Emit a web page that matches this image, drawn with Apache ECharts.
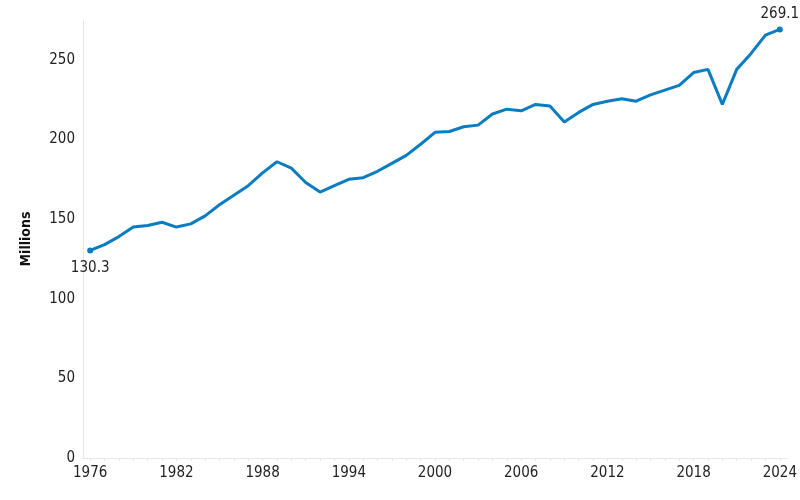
<!DOCTYPE html>
<html><head><meta charset="utf-8">
<script src="https://cdn.jsdelivr.net/npm/echarts@6/dist/echarts.min.js"></script>
<style>html,body{margin:0;background:#fff}#main{width:800px;height:500px}</style>
</head><body><div id="main"></div>
<script>
var years = [];
for (var y = 1976; y <= 2024; y++) years.push(String(y));
var values = [130.3, 134, 139, 145, 146, 148, 145, 147, 152, 159, 165, 171, 179, 186, 182, 173, 167, 171, 175, 176,
    180, 185, 190, 197, 204.5, 205, 208, 209, 216, 219, 218, 222, 221, 211, 217, 222, 224, 225.5, 224, 228,
    231, 234, 242, 244, 222, 244, 254, 265.5, 269.1];
var shownYears = ['1976', '1982', '1988', '1994', '2000', '2006', '2012', '2018', '2024'];
var font = '"Liberation Sans Narrow", "DejaVu Sans Condensed", sans-serif';

var myChart = echarts.init(document.getElementById('main'), null, { renderer: 'canvas' });

var data = values.map(function (v, i) {
    var item = { value: v };
    if (i === 0 || i === values.length - 1) {
        item.symbol = 'circle';
        item.symbolSize = 6;
        item.label = {
            show: true,
            position: i === 0 ? 'bottom' : 'top',
            formatter: String(v),
            color: '#222',
            fontSize: 15,
            fontFamily: font,
            offset: i === 0 ? [0, 2] : [0, 0]
        };
    }
    return item;
});

var option = {
    animation: false,
    grid: { left: 83, right: 13, top: 20, bottom: 42 },
    xAxis: {
        type: 'category',
        data: years,
        boundaryGap: ['3%', '3%'],
        boundaryGap: true,
        axisLine: { lineStyle: { color: '#e6e6e6' } },
        axisTick: { show: true, interval: 0, alignWithLabel: true, length: 3, lineStyle: { color: '#e6e6e6' } },
        axisLabel: {
            interval: function (i, v) { return shownYears.indexOf(v) >= 0; },
            color: '#222', fontSize: 15, fontFamily: font, margin: 8
        }
    },
    yAxis: {
        type: 'value',
        min: 0, max: 275, interval: 50,
        name: 'Millions',
        nameLocation: 'middle',
        nameGap: 50,
        nameTextStyle: { fontWeight: 'bold', fontSize: 14, color: '#111', fontFamily: font },
        axisLine: { show: true, lineStyle: { color: '#e6e6e6' } },
        splitLine: { show: false },
        axisLabel: { color: '#222', fontSize: 15, fontFamily: font, margin: 8,
            showMaxLabel: false }
    },
    series: [{
        type: 'line',
        data: data,
        symbol: 'none',
        showSymbol: true,
        lineStyle: { color: '#0a7dc2', width: 3 },
        itemStyle: { color: '#0a7dc2' }
    }]
};
myChart.setOption(option);
window.addEventListener('resize', myChart.resize);
</script></body></html>
